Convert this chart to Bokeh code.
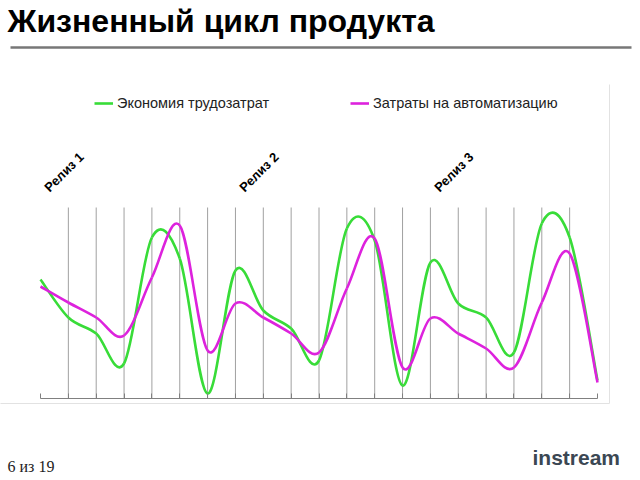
from bokeh.plotting import figure
from bokeh.models import Range1d, FixedTicker, Label, Legend, LegendItem, LinearAxis
from bokeh.embed import file_html
from bokeh.resources import INLINE

# ---- data ----
categories = list(range(21))
savings = [119, 81, 65, 35, 161, 140, 5, 128, 88, 70, 38, 170, 158, 13, 136, 95, 81, 46, 175, 161, 18]
costs = [112, 96, 81, 63, 121, 173, 48, 95, 81, 65, 46, 110, 160, 31, 80, 65, 50, 31, 96, 145, 16]
series_names = ["Экономия трудозатрат", "Затраты на автоматизацию"]
releases = ["Релиз 1", "Релиз 2", "Релиз 3"]
release_at = [0, 7, 14]
title_text = "Жизненный цикл продукта"
page_text = "6  из 19"
logo_text = "instream"
Y_TOP = 191  # value at top of the plot area

GREEN = "#38dc38"
MAGENTA = "#dd22dd"

W, H = 640, 480
PLOT_L, PLOT_R, PLOT_B = 40, 597, 398  # plot area in page pixels
X_MAX = categories[-1]
SX = (PLOT_R - PLOT_L) / X_MAX


def fx(px):
    return (px - PLOT_L) / SX


def fy(py):
    return PLOT_B - py


def bezier_parts(xs, ys):
    n = len(xs)
    out = dict(x0=[], y0=[], x1=[], y1=[], cx0=[], cy0=[], cx1=[], cy1=[])
    for i in range(n - 1):
        a = max(i - 1, 0)
        d = min(i + 2, n - 1)
        out["x0"].append(xs[i]); out["y0"].append(ys[i])
        out["x1"].append(xs[i + 1]); out["y1"].append(ys[i + 1])
        out["cx0"].append(xs[i] + (xs[i + 1] - xs[a]) / 6)
        out["cy0"].append(ys[i] + (ys[i + 1] - ys[a]) / 6)
        out["cx1"].append(xs[i + 1] - (xs[d] - xs[i]) / 6)
        out["cy1"].append(ys[i + 1] - (ys[d] - ys[i]) / 6)
    return out


p = figure(width=W, height=H,
           x_range=Range1d(fx(0), fx(W)), y_range=Range1d(fy(H), fy(0)),
           output_backend="svg", toolbar_location=None,
           min_border=0, x_axis_location=None, y_axis_location=None)
p.outline_line_color = None
p.background_fill_color = "white"
p.border_fill_color = "white"
p.xgrid.visible = False
p.ygrid.visible = False

# chart area border (right and bottom, faint)
p.segment(x0=[fx(609), fx(-5)], y0=[fy(84), fy(403)], x1=[fx(609), fx(609)], y1=[fy(403), fy(403)],
          line_color="#e2e2e2", line_width=1)

# vertical category grid lines
inner = categories[1:-1]
p.segment(x0=inner, y0=[0] * len(inner), x1=inner, y1=[Y_TOP] * len(inner),
          line_color="#a0a0a0", line_width=1)

# category axis (ticks only)
ax = LinearAxis(fixed_location=0, bounds=(categories[0], categories[-1]),
                ticker=FixedTicker(ticks=[], minor_ticks=categories))
ax.axis_line_color = "#808080"
ax.minor_tick_line_color = "#808080"
ax.minor_tick_in = 5
ax.minor_tick_out = 0
ax.major_tick_line_color = None
p.add_layout(ax, "below")

r1 = p.bezier(**bezier_parts(categories, savings), line_color=GREEN, line_width=2.6)
r2 = p.bezier(**bezier_parts(categories, costs), line_color=MAGENTA, line_width=2.6)

legend = Legend(items=[LegendItem(label=series_names[0], renderers=[r1]),
                       LegendItem(label=series_names[1], renderers=[r2])],
                orientation="horizontal", location=(94, H - 111),
                padding=0, margin=0, spacing=0,
                glyph_width=19, glyph_height=16, label_height=16,
                label_width=233, label_standoff=4,
                border_line_color=None, background_fill_alpha=0,
                label_text_font="Liberation Sans", label_text_font_size="14.5px",
                label_text_color="#222222")
p.add_layout(legend, "center")

# title + rule
p.add_layout(Label(x=fx(7), y=fy(20), text=title_text, text_font="Liberation Sans",
                   text_font_style="bold", text_font_size="32px", text_color="black",
                   text_baseline="alphabetic"))
p.segment(x0=[fx(10)], y0=[fy(47)], x1=[fx(631)], y1=[fy(47)], line_color="#777777", line_width=2.5)

for name, c in zip(releases, release_at):
    p.add_layout(Label(x=c + 0.22, y=fy(189), text=name, angle=45, angle_units="deg",
                       text_font="Liberation Sans", text_font_style="bold",
                       text_font_size="13px", text_color="black",
                       text_baseline="alphabetic", text_align="left"))

p.add_layout(Label(x=fx(7), y=fy(466), text=page_text, text_font="Liberation Serif",
                   text_font_size="16px", text_color="#222222", text_baseline="alphabetic"))
p.add_layout(Label(x=fx(532), y=fy(457), text=logo_text, text_font="Liberation Sans",
                   text_font_style="bold", text_font_size="21px", text_color="#3b4753",
                   text_baseline="alphabetic"))

open("out.html", "w").write(file_html(p, INLINE))
